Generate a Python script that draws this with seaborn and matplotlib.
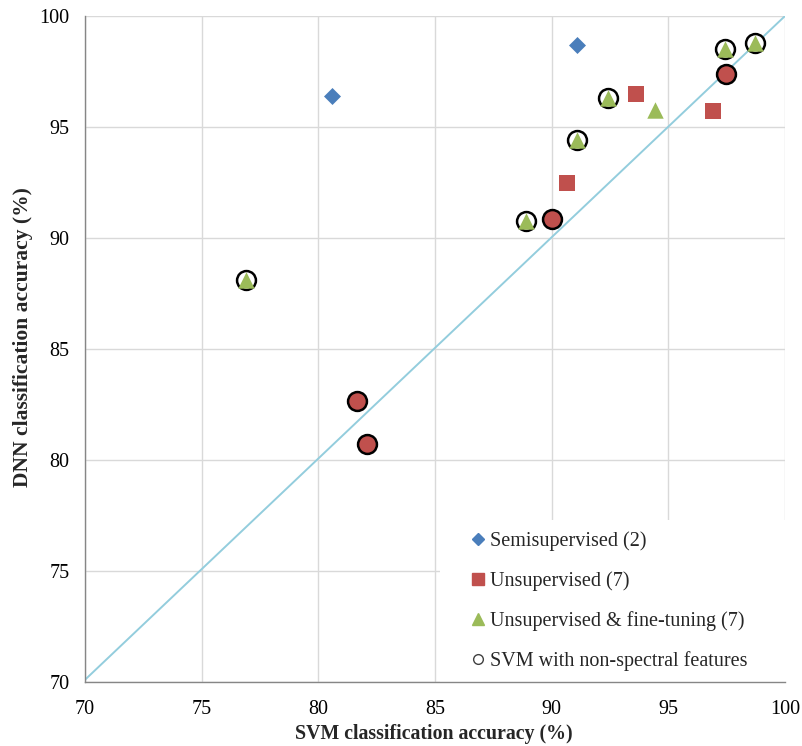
import matplotlib
matplotlib.use("Agg")
import matplotlib.pyplot as plt
from matplotlib.lines import Line2D
from matplotlib.patches import Rectangle
import seaborn as sns
import pandas as pd

# SVM vs DNN classification accuracy (%) per training scheme
semi_x = [80.57, 91.1]
semi_y = [96.4, 98.7]

unsup_x = [81.66, 82.1, 90.0, 97.46, 93.62, 90.64, 96.92]
unsup_y = [82.66, 80.7, 90.85, 97.4, 96.5, 92.5, 95.7]
unsup_nonspectral = [True, True, True, True, False, False, False]

ft_x = [76.9, 88.9, 91.1, 92.42, 94.43, 97.43, 98.73]
ft_y = [88.1, 90.75, 94.4, 96.3, 95.75, 98.5, 98.8]
ft_nonspectral = [True, True, True, True, False, True, True]

diag_x = [70, 100]
diag_y = [70.1, 100]

ticks = [70, 75, 80, 85, 90, 95, 100]
legend_labels = ["Semisupervised (2)", "Unsupervised (7)",
                 "Unsupervised & fine-tuning (7)", "SVM with non-spectral features"]

BLUE = "#4A7EBB"
RED = "#C0504D"
GREEN = "#9BBB59"
DIAG = "#93CDDD"
GRID = "#D9D9D9"
AXIS = "#868686"

sns.set_theme(style="white")
plt.rcParams["font.family"] = ["Liberation Serif", "DejaVu Serif"]

semi = pd.DataFrame({"svm": semi_x, "dnn": semi_y})
unsup = pd.DataFrame({"svm": unsup_x, "dnn": unsup_y, "ns": unsup_nonspectral})
ft = pd.DataFrame({"svm": ft_x, "dnn": ft_y, "ns": ft_nonspectral})

fig = plt.figure(figsize=(8.03, 7.46), dpi=100)
ax = fig.add_axes([85 / 803, 64 / 746, 700 / 803, 666 / 746])

ax.set_xlim(70, 100)
ax.set_ylim(70, 100)
ax.set_xticks(ticks)
ax.set_yticks(ticks)
ax.set_axisbelow(True)
ax.grid(True, color=GRID, linewidth=1.0)

# legend backdrop hides the gridlines in the lower-right corner
ax.add_patch(Rectangle((0.507, 0.0), 0.493, 0.243, transform=ax.transAxes,
                       facecolor="white", edgecolor="none", zorder=1))

sns.lineplot(x=diag_x, y=diag_y, ax=ax, color=DIAG, linewidth=1.4, zorder=2)

RING_S = 185
RING_LW = 1.8

# non-spectral SVM rings (hollow) around the fine-tuned triangles
ft_ns = ft[ft["ns"]]
sns.scatterplot(data=ft_ns, x="svm", y="dnn", ax=ax, marker="o", s=RING_S,
                facecolor="white", edgecolor="black", linewidth=RING_LW, zorder=3)

sns.scatterplot(data=semi, x="svm", y="dnn", ax=ax, marker="D", s=75,
                color=BLUE, edgecolor=BLUE, linewidth=0, zorder=4)
sns.scatterplot(data=unsup[~unsup["ns"]], x="svm", y="dnn", ax=ax, marker="s",
                s=120, color=RED, edgecolor=RED, linewidth=0, zorder=4)
sns.scatterplot(data=unsup[unsup["ns"]], x="svm", y="dnn", ax=ax, marker="o",
                s=RING_S, color=RED, edgecolor="black", linewidth=RING_LW, zorder=4)
sns.scatterplot(data=ft, x="svm", y="dnn", ax=ax, marker="^", s=140,
                color=GREEN, edgecolor=GREEN, linewidth=0, zorder=4)

for side in ["top", "right"]:
    ax.spines[side].set_visible(False)
for side in ["left", "bottom"]:
    ax.spines[side].set_color(AXIS)
    ax.spines[side].set_linewidth(1.0)
    ax.spines[side].set_zorder(5)

ax.tick_params(axis="both", which="major", direction="out", length=5, width=1,
               color=AXIS, labelsize=14.5, labelcolor="black")
ax.tick_params(axis="x", pad=8)
ax.tick_params(axis="y", pad=6)

ax.set_xlabel("SVM classification accuracy (%)", fontsize=14.3,
              fontweight="bold")
ax.set_ylabel("DNN classification accuracy (%)", fontsize=15.5,
              fontweight="bold")
ax.xaxis.set_label_coords(0.498, -0.063)
ax.yaxis.set_label_coords(-0.074, 0.518)

handles = [
    Line2D([], [], linestyle="none", marker="D", markersize=6,
           markerfacecolor=BLUE, markeredgecolor=BLUE),
    Line2D([], [], linestyle="none", marker="s", markersize=8,
           markerfacecolor=RED, markeredgecolor=RED),
    Line2D([], [], linestyle="none", marker="^", markersize=8,
           markerfacecolor=GREEN, markeredgecolor=GREEN),
    Line2D([], [], linestyle="none", marker="o", markersize=7,
           markerfacecolor="white", markeredgecolor="#404040", markeredgewidth=1),
]
leg = ax.legend(handles, legend_labels, loc="upper left",
                bbox_to_anchor=((469 - 85) / 700, (682 - 531) / 666),
                frameon=False, fontsize=14.5, borderaxespad=0, borderpad=0,
                handlelength=0.9, handletextpad=0.15, labelspacing=1.0)
leg.set_zorder(6)

fig.savefig("out.png", dpi=100)
